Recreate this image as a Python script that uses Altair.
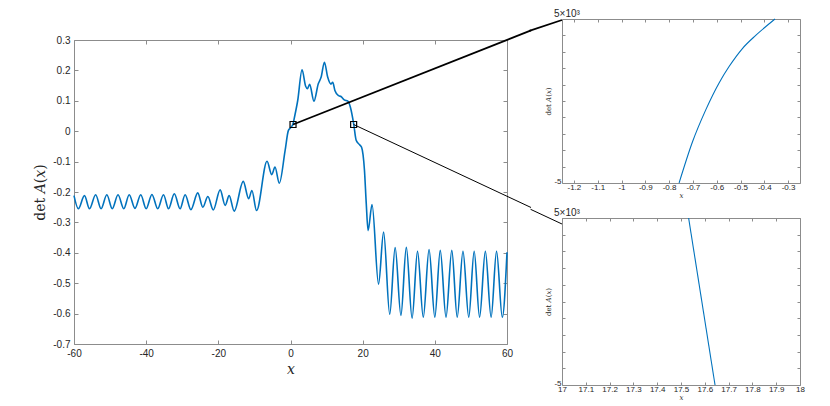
import altair as alt
import pandas as pd

# ---------------- data ----------------
main_x = [-60.0, -58.8, -57.1, -55.7, -54.0, -52.5, -50.9, -49.4, -47.8, -46.2, -44.7, -43.1,
          -41.5, -40.0, -38.4, -36.8, -35.2, -33.8, -32.2, -30.6, -29.2, -27.6, -25.7, -24.3,
          -22.9, -21.4, -19.5, -18.1, -17.0, -15.6, -13.1, -11.6, -10.7, -9.4, -6.5, -5.2,
          -4.3, -3.1, -1.5, -0.6, 0.0, 0.7, 1.1, 2.0, 3.2, 4.2, 4.7, 5.3, 6.5, 7.7, 8.5, 9.4,
          10.3, 11.2, 11.7, 12.3, 13.3, 14.0, 14.9, 15.9, 16.6, 17.5, 18.2, 19.1, 19.7, 20.5,
          21.0, 21.5, 22.6, 24.4, 25.8, 27.5, 29.0, 30.6, 32.1, 33.7, 35.2, 36.8, 38.4, 40.0,
          41.5, 43.1, 44.7, 46.2, 47.8, 49.4, 50.9, 52.4, 54.0, 55.6, 57.1, 58.7, 60.0]
main_y = [-0.212, -0.255, -0.212, -0.255, -0.209, -0.255, -0.209, -0.255, -0.209, -0.255,
          -0.209, -0.254, -0.209, -0.255, -0.208, -0.255, -0.209, -0.255, -0.206, -0.255,
          -0.209, -0.258, -0.203, -0.250, -0.215, -0.259, -0.193, -0.244, -0.212, -0.263,
          -0.165, -0.222, -0.195, -0.261, -0.099, -0.143, -0.118, -0.171, -0.064, 0.002,
          0.011, 0.024, 0.046, 0.101, 0.202, 0.148, 0.140, 0.154, 0.099, 0.156, 0.178, 0.227,
          0.178, 0.155, 0.161, 0.134, 0.117, 0.114, 0.103, 0.099, 0.079, 0.025, -0.030,
          -0.044, -0.053, -0.129, -0.239, -0.327, -0.241, -0.503, -0.332, -0.602, -0.383,
          -0.606, -0.382, -0.615, -0.395, -0.612, -0.389, -0.612, -0.392, -0.612, -0.392,
          -0.612, -0.395, -0.612, -0.395, -0.612, -0.395, -0.612, -0.395, -0.612, -0.398]

inset1_x = [-0.758, -0.702, -0.646, -0.590, -0.548, -0.492, -0.436, -0.355]
inset1_y = [-5.0, -2.5, -0.54, 1.10, 2.10, 3.20, 4.0, 5.0]        # units of 1e-3
inset2_x = [17.532, 17.643]
inset2_y = [5.0, -5.0]                                            # units of 1e-3

main_xticks = [-60, -40, -20, 0, 20, 40, 60]
main_yticks = [-0.7, -0.6, -0.5, -0.4, -0.3, -0.2, -0.1, 0.0, 0.1, 0.2, 0.3]
inset1_xticks = [-1.2, -1.1, -1.0, -0.9, -0.8, -0.7, -0.6, -0.5, -0.4, -0.3]
inset2_xticks = [17.0, 17.1, 17.2, 17.3, 17.4, 17.5, 17.6, 17.7, 17.8, 17.9, 18.0]
inset_yticks = [-5, -4, -3, -2, -1, 0, 1, 2, 3, 4, 5]

# zoom squares on the main curve and connector lines (first part in main-axes units)
zoom_x = [0.7, 17.5]
zoom_y = [0.022, 0.022]
link_x2 = [66.66, 66.66]
link_y2 = [0.3316, -0.251]
link_w = [1.8, 1.0]
# second part of each connector, in the inset's own units
link1_x = [-1.3874, -1.25]
link1_y = [4.274, 4.94]
link2_x = [16.868, 17.0]
link2_y = [5.52, 4.64]

exp_label = "5×10³"
main_ytitle = "det 𝐴(𝑥)"
main_xtitle = "𝑥"

# ---------------- styling ----------------
BLUE = "#0072BD"
AX = "#8c8c8c"
TXT = "#262626"
SANS = "Liberation Sans"
SERIF = "DejaVu Serif"
FMT = "replace(format(datum.value, '~g'), '\u2212', '-')"


def axis(orient, values, tick, labels=True, title=None, lsize=10, tsize=14,
         lpad=4, tpad=3, label_expr=FMT, **extra):
    kw = dict(orient=orient, values=values, tickSize=tick, offset=-tick, domain=False,
              grid=False, tickColor=AX, tickWidth=1, labels=labels)
    if labels:
        kw.update(labelExpr=label_expr, labelFont=SANS, labelFontSize=lsize,
                  labelColor=TXT, labelPadding=lpad, labelFlush=False, labelOverlap=False)
    if title is not None:
        kw.update(title=title, titleFont=SERIF, titleFontSize=tsize, titleFontWeight="normal",
                  titleColor=TXT, titlePadding=tpad)
    else:
        kw.update(title=None)
    kw.update(extra)
    return alt.Axis(**kw)


# ---------------- main panel ----------------
df_main = pd.DataFrame({"x": main_x, "y": main_y})
df_link = pd.DataFrame({"x": zoom_x, "y": zoom_y, "x2": link_x2, "y2": link_y2, "w": link_w})
xsc = alt.Scale(domain=[-60, 60], nice=False, zero=False)
ysc = alt.Scale(domain=[-0.7, 0.3], nice=False, zero=False)

main_line = alt.Chart(df_main).mark_line(color=BLUE, strokeWidth=1.6, interpolate="monotone").encode(
    x=alt.X("x:Q", scale=xsc, axis=axis("bottom", main_xticks, 4, title=main_xtitle, tpad=4)),
    y=alt.Y("y:Q", scale=ysc, axis=axis("left", main_yticks, 4, title=main_ytitle, tpad=5)),
)
main_box = alt.Chart(df_main).mark_line(opacity=0).encode(
    x=alt.X("x:Q", scale=xsc, axis=axis("top", main_xticks, 4, labels=False)),
    y=alt.Y("y:Q", scale=ysc, axis=axis("right", main_yticks, 4, labels=False)),
)
links = alt.Chart(df_link).mark_rule(color="black", clip=False).encode(
    x=alt.X("x:Q", scale=xsc, axis=None),
    y=alt.Y("y:Q", scale=ysc, axis=None),
    x2="x2:Q",
    y2="y2:Q",
    strokeWidth=alt.StrokeWidth("w:Q", scale=None, legend=None),
)
squares = alt.Chart(df_link).mark_point(shape="square", filled=False, color="black",
                                         size=36, strokeWidth=1.2, opacity=1).encode(
    x=alt.X("x:Q", scale=xsc, axis=None),
    y=alt.Y("y:Q", scale=ysc, axis=None),
)
main = alt.layer(main_line, main_box, links, squares).resolve_axis(
    x="independent", y="independent").properties(width=433, height=304)

spacer = alt.Chart(pd.DataFrame({"a": [0]})).mark_point(opacity=0).encode(
    x=alt.X("a:Q", axis=None), y=alt.Y("a:Q", axis=None)
).properties(width=433, height=1, view=alt.ViewBackground(stroke="transparent"))

left_block = alt.vconcat(spacer, main, spacing=5)

# ---------------- insets ----------------
iysc = alt.Scale(domain=[-5, 5], nice=False, zero=False)
Y_EXPR = "datum.value == -5 ? '-5' : ''"


def inset(xs, ys, dom, xticks, lx, ly, lw, h):
    xsc_i = alt.Scale(domain=dom, nice=False, zero=False)
    df = pd.DataFrame({"x": xs, "y": ys})
    ln = alt.Chart(df).mark_line(color=BLUE, strokeWidth=1.1, interpolate="monotone").encode(
        x=alt.X("x:Q", scale=xsc_i, axis=axis("bottom", xticks, 3, title=main_xtitle,
                                               lsize=8, tsize=7, lpad=0, tpad=0)),
        y=alt.Y("y:Q", scale=iysc, axis=axis("left", inset_yticks, 3, title=main_ytitle,
                                              lsize=8, tsize=7, lpad=1, tpad=2,
                                              label_expr=Y_EXPR,
                                              labelBaseline="alphabetic")),
    )
    box = alt.Chart(df).mark_line(opacity=0).encode(
        x=alt.X("x:Q", scale=xsc_i, axis=axis("top", xticks, 3, labels=False)),
        y=alt.Y("y:Q", scale=iysc, axis=axis("right", inset_yticks, 3, labels=False)),
    )
    exp = alt.Chart(pd.DataFrame({"x": [dom[0]], "y": [5], "t": [exp_label]})).mark_text(
        align="left", baseline="top", dx=-8, dy=-10, fontSize=10, font=SANS, color=TXT
    ).encode(
        x=alt.X("x:Q", scale=xsc_i, axis=None),
        y=alt.Y("y:Q", scale=iysc, axis=None),
        text="t:N",
    )
    link = alt.Chart(pd.DataFrame({"x": [lx[0]], "y": [ly[0]], "x2": [lx[1]], "y2": [ly[1]]})
                     ).mark_rule(color="black", strokeWidth=lw, clip=False).encode(
        x=alt.X("x:Q", scale=xsc_i, axis=None),
        y=alt.Y("y:Q", scale=iysc, axis=None),
        x2="x2:Q",
        y2="y2:Q",
    )
    return alt.layer(ln, box, exp, link).resolve_axis(
        x="independent", y="independent").properties(width=238, height=h)


inset1 = inset(inset1_x, inset1_y, [-1.25, -0.25], inset1_xticks, link1_x, link1_y,
               link_w[0], 164)
inset2 = inset(inset2_x, inset2_y, [17.0, 18.0], inset2_xticks, link2_x, link2_y,
               link_w[1], 167)
right_block = alt.vconcat(inset1, inset2, spacing=8)

chart = alt.hconcat(left_block, right_block, spacing=-6).properties(
    padding={"left": 25, "top": 0, "right": 5, "bottom": 5},
    background="white",
).configure_view(stroke=AX, strokeWidth=1)

chart.save("out.html", embed_options={"renderer": "svg", "actions": False})
